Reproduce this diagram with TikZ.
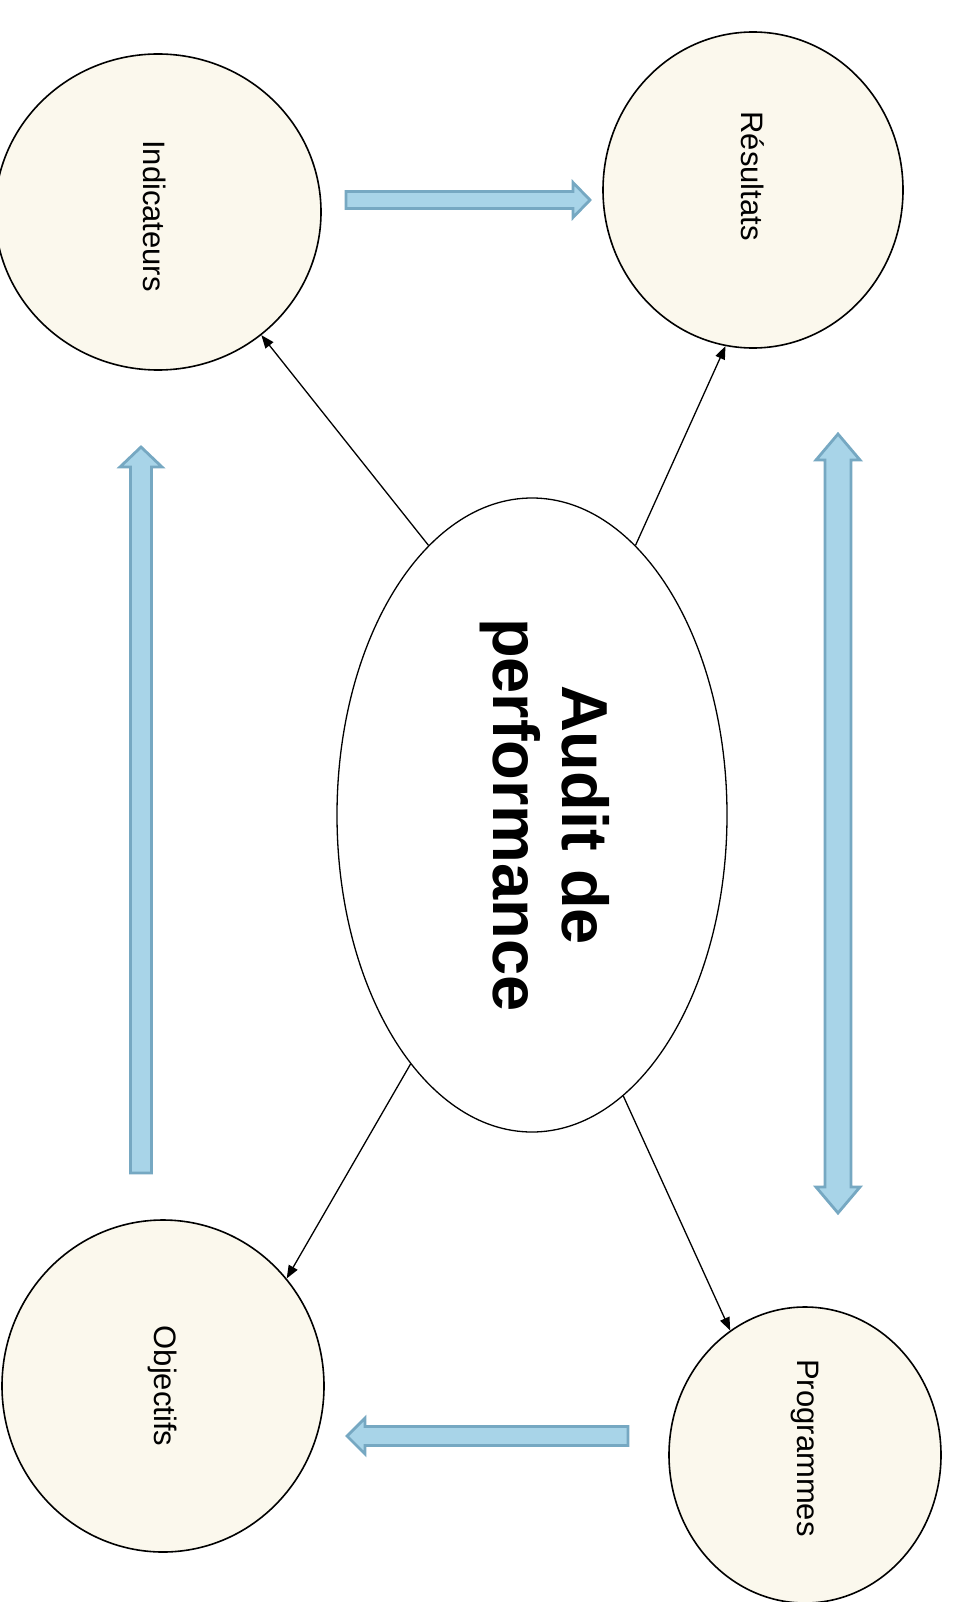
\documentclass[tikz,border=0pt]{standalone}
\usepackage{fontspec}
\setmainfont{Liberation Sans}
\usetikzlibrary{shapes.geometric,arrows.meta}
\definecolor{cream}{RGB}{251,248,237}
\definecolor{arrowfill}{RGB}{168,212,232}
\definecolor{arrowedge}{RGB}{118,168,194}
\tikzset{
  bubble/.style={ellipse, draw=black, line width=1.6pt, fill=cream, inner sep=0pt},
  centre/.style={ellipse, draw=black, line width=1.3pt, fill=white, inner sep=0pt},
  lbl/.style={rotate=-90, font=\fontsize{31}{36}\selectfont, inner sep=0pt},
  title/.style={rotate=-90, font=\bfseries\fontsize{65}{69}\selectfont, align=center, inner sep=0pt},
  link/.style={line width=1.3pt, -{Triangle[length=13pt,width=10pt]}},
  blockarrow/.style={fill=arrowfill, draw=arrowedge, line width=2.8pt, line join=miter}
}
\begin{document}
\begin{tikzpicture}[x=1pt,y=-1pt]
\useasboundingbox (0,0) rectangle (953,1602);
% shapes
\node[bubble, minimum width=326pt, minimum height=316pt] (ind) at (158,212) {};
\node[bubble, minimum width=300pt, minimum height=316pt] (res) at (753,190) {};
\node[bubble, minimum width=322pt, minimum height=332pt] (obj) at (163,1386) {};
\node[bubble, minimum width=272pt, minimum height=296pt] (prog) at (805,1455) {};
\node[centre, minimum width=390pt, minimum height=634pt] (audit) at (532,815) {};
% labels
\node[lbl] (indl) at (155,216) {Indicateurs};
\node[lbl] (resl) at (753,176) {Résultats};
\node[lbl] (objl) at (obj) {Objectifs};
\node[lbl] (progl) at (805,1448) {Programmes};
\node[title] (auditl) at (545,815) {Audit de\\performance};
% connectors
\draw[link] (audit.111.5) -- (ind.-50.8);
\draw[link] (audit.69.2) -- (res.-100.6);
\draw[link] (audit.-116) -- (obj.41.4);
\draw[link] (audit.-72.5) -- (prog.121);
% block arrows
\draw[blockarrow] (346,191.5) -- (573,191.5) -- (573,182.5) -- (590,200) -- (573,217.5) -- (573,208.5) -- (346,208.5) -- cycle;
\draw[blockarrow] (130.5,1173) -- (130.5,467) -- (120,467) -- (141,447) -- (162,467) -- (151.5,467) -- (151.5,1173) -- cycle;
\draw[blockarrow] (825,460) -- (816,460) -- (838,434) -- (860,460) -- (851,460) -- (851,1187) -- (860,1187) -- (838,1213) -- (816,1187) -- (825,1187) -- cycle;
\draw[blockarrow] (628,1426.5) -- (365,1426.5) -- (365,1418) -- (347,1436) -- (365,1454) -- (365,1445.5) -- (628,1445.5) -- cycle;
\end{tikzpicture}
\end{document}
